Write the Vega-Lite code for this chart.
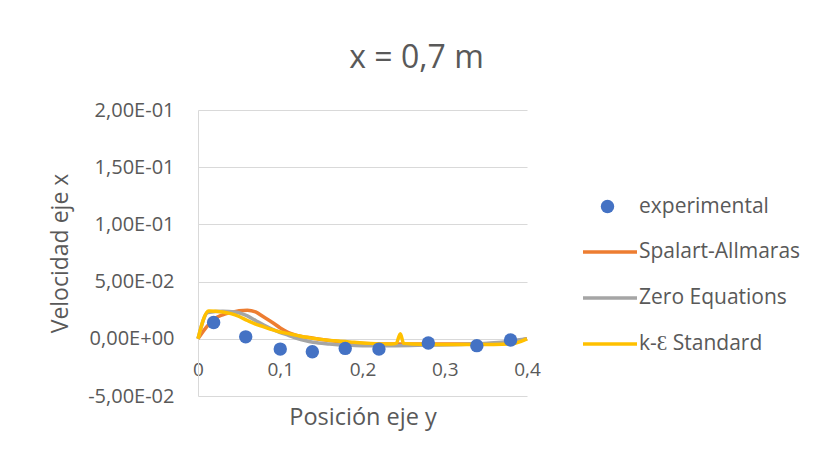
{
  "$schema": "https://vega.github.io/schema/vega-lite/v6.json",
  "autosize": {"type": "none"},
  "width": 329,
  "height": 286,
  "padding": {"left": 198, "top": 110, "right": 288, "bottom": 60},
  "background": "white",
  "title": {"text": "x = 0,7 m", "fontSize": 32, "font": "Open Sans", "fontWeight": "normal", "color": "#595959", "anchor": "middle", "dx": 54, "offset": 25},
  "config": {
    "view": {"stroke": null},
    "axis": {"labelFont": "Open Sans", "titleFont": "Open Sans", "labelColor": "#595959", "titleColor": "#595959", "titleFontWeight": "normal", "ticks": false, "gridColor": "#D9D9D9", "domainColor": "#D9D9D9"},
    "legend": {"labelFont": "Open Sans", "labelFontSize": 21, "labelColor": "#595959", "labelLimit": 400}
  },
  "datasets": {
    "lines": [
      {"series": "Spalart-Allmaras", "y_pos": 0, "vel": 0},
      {"series": "Spalart-Allmaras", "y_pos": 0.01, "vel": 0.01},
      {"series": "Spalart-Allmaras", "y_pos": 0.02, "vel": 0.0175},
      {"series": "Spalart-Allmaras", "y_pos": 0.03, "vel": 0.021},
      {"series": "Spalart-Allmaras", "y_pos": 0.04, "vel": 0.023},
      {"series": "Spalart-Allmaras", "y_pos": 0.05, "vel": 0.0245},
      {"series": "Spalart-Allmaras", "y_pos": 0.06, "vel": 0.025},
      {"series": "Spalart-Allmaras", "y_pos": 0.07, "vel": 0.0235},
      {"series": "Spalart-Allmaras", "y_pos": 0.08, "vel": 0.019},
      {"series": "Spalart-Allmaras", "y_pos": 0.09, "vel": 0.0145},
      {"series": "Spalart-Allmaras", "y_pos": 0.10, "vel": 0.0095},
      {"series": "Spalart-Allmaras", "y_pos": 0.11, "vel": 0.0055},
      {"series": "Spalart-Allmaras", "y_pos": 0.12, "vel": 0.003},
      {"series": "Spalart-Allmaras", "y_pos": 0.14, "vel": 0.0005},
      {"series": "Spalart-Allmaras", "y_pos": 0.16, "vel": -0.0015},
      {"series": "Spalart-Allmaras", "y_pos": 0.18, "vel": -0.003},
      {"series": "Spalart-Allmaras", "y_pos": 0.20, "vel": -0.004},
      {"series": "Spalart-Allmaras", "y_pos": 0.24, "vel": -0.0045},
      {"series": "Spalart-Allmaras", "y_pos": 0.28, "vel": -0.0045},
      {"series": "Spalart-Allmaras", "y_pos": 0.32, "vel": -0.0045},
      {"series": "Spalart-Allmaras", "y_pos": 0.36, "vel": -0.004},
      {"series": "Spalart-Allmaras", "y_pos": 0.38, "vel": -0.003},
      {"series": "Spalart-Allmaras", "y_pos": 0.40, "vel": 0},
      {"series": "Zero Equations", "y_pos": 0, "vel": 0},
      {"series": "Zero Equations", "y_pos": 0.012, "vel": 0.023},
      {"series": "Zero Equations", "y_pos": 0.03, "vel": 0.024},
      {"series": "Zero Equations", "y_pos": 0.045, "vel": 0.0235},
      {"series": "Zero Equations", "y_pos": 0.06, "vel": 0.02},
      {"series": "Zero Equations", "y_pos": 0.07, "vel": 0.016},
      {"series": "Zero Equations", "y_pos": 0.08, "vel": 0.012},
      {"series": "Zero Equations", "y_pos": 0.09, "vel": 0.0085},
      {"series": "Zero Equations", "y_pos": 0.10, "vel": 0.0055},
      {"series": "Zero Equations", "y_pos": 0.11, "vel": 0.003},
      {"series": "Zero Equations", "y_pos": 0.12, "vel": 0.0005},
      {"series": "Zero Equations", "y_pos": 0.13, "vel": -0.0015},
      {"series": "Zero Equations", "y_pos": 0.14, "vel": -0.003},
      {"series": "Zero Equations", "y_pos": 0.16, "vel": -0.0045},
      {"series": "Zero Equations", "y_pos": 0.18, "vel": -0.0055},
      {"series": "Zero Equations", "y_pos": 0.20, "vel": -0.006},
      {"series": "Zero Equations", "y_pos": 0.24, "vel": -0.006},
      {"series": "Zero Equations", "y_pos": 0.28, "vel": -0.0055},
      {"series": "Zero Equations", "y_pos": 0.32, "vel": -0.005},
      {"series": "Zero Equations", "y_pos": 0.36, "vel": -0.0035},
      {"series": "Zero Equations", "y_pos": 0.38, "vel": -0.002},
      {"series": "Zero Equations", "y_pos": 0.40, "vel": 0},
      {"series": "k-Ɛ Standard", "y_pos": 0, "vel": 0},
      {"series": "k-Ɛ Standard", "y_pos": 0.013, "vel": 0.0243},
      {"series": "k-Ɛ Standard", "y_pos": 0.03, "vel": 0.0235},
      {"series": "k-Ɛ Standard", "y_pos": 0.04, "vel": 0.022},
      {"series": "k-Ɛ Standard", "y_pos": 0.05, "vel": 0.0195},
      {"series": "k-Ɛ Standard", "y_pos": 0.06, "vel": 0.016},
      {"series": "k-Ɛ Standard", "y_pos": 0.07, "vel": 0.0128},
      {"series": "k-Ɛ Standard", "y_pos": 0.08, "vel": 0.0105},
      {"series": "k-Ɛ Standard", "y_pos": 0.09, "vel": 0.008},
      {"series": "k-Ɛ Standard", "y_pos": 0.10, "vel": 0.006},
      {"series": "k-Ɛ Standard", "y_pos": 0.11, "vel": 0.0045},
      {"series": "k-Ɛ Standard", "y_pos": 0.12, "vel": 0.003},
      {"series": "k-Ɛ Standard", "y_pos": 0.13, "vel": 0.0015},
      {"series": "k-Ɛ Standard", "y_pos": 0.14, "vel": 0.0005},
      {"series": "k-Ɛ Standard", "y_pos": 0.15, "vel": -0.0005},
      {"series": "k-Ɛ Standard", "y_pos": 0.17, "vel": -0.002},
      {"series": "k-Ɛ Standard", "y_pos": 0.19, "vel": -0.003},
      {"series": "k-Ɛ Standard", "y_pos": 0.21, "vel": -0.004},
      {"series": "k-Ɛ Standard", "y_pos": 0.235, "vel": -0.0045},
      {"series": "k-Ɛ Standard", "y_pos": 0.241, "vel": -0.004},
      {"series": "k-Ɛ Standard", "y_pos": 0.246, "vel": 0.0045},
      {"series": "k-Ɛ Standard", "y_pos": 0.25, "vel": -0.004},
      {"series": "k-Ɛ Standard", "y_pos": 0.26, "vel": -0.0045},
      {"series": "k-Ɛ Standard", "y_pos": 0.30, "vel": -0.005},
      {"series": "k-Ɛ Standard", "y_pos": 0.34, "vel": -0.005},
      {"series": "k-Ɛ Standard", "y_pos": 0.38, "vel": -0.0045},
      {"series": "k-Ɛ Standard", "y_pos": 0.40, "vel": 0}
    ],
    "points": [
      {"series": "experimental", "y_pos": 0.019, "vel": 0.0142},
      {"series": "experimental", "y_pos": 0.058, "vel": 0.0017},
      {"series": "experimental", "y_pos": 0.10, "vel": -0.009},
      {"series": "experimental", "y_pos": 0.139, "vel": -0.0113},
      {"series": "experimental", "y_pos": 0.179, "vel": -0.0084},
      {"series": "experimental", "y_pos": 0.22, "vel": -0.009},
      {"series": "experimental", "y_pos": 0.28, "vel": -0.0037},
      {"series": "experimental", "y_pos": 0.339, "vel": -0.006},
      {"series": "experimental", "y_pos": 0.38, "vel": -0.001}
    ]
  },
  "encoding": {
    "x": {
      "field": "y_pos", "type": "quantitative",
      "scale": {"domain": [0, 0.4], "nice": false, "zero": false},
      "axis": {"title": "Posición eje y", "titleFontSize": 23.5, "labelFontSize": 19, "values": [0, 0.1, 0.2, 0.3, 0.4], "labelExpr": "replace('' + datum.value, '.', ',')", "grid": false, "domain": false, "offset": -36, "labelPadding": 0, "titlePadding": 26, "labelFlush": false}
    },
    "y": {
      "field": "vel", "type": "quantitative",
      "scale": {"domain": [-0.05, 0.2], "nice": false, "zero": false},
      "axis": {"title": "Velocidad eje x", "titleFontSize": 23, "labelFontSize": 20, "values": [-0.05, 0, 0.05, 0.1, 0.15, 0.2], "labelExpr": "replace(replace(replace(replace(format(datum.value, '.2e'), '.', ','), 'e-', 'E-0'), 'e+', 'E+0'), '−', '-')", "labelPadding": 24, "titleX": -138, "titleY": 143, "titleAlign": "center", "titleBaseline": "middle", "titleAngle": -90}
    }
  },
  "layer": [
    {
      "data": {"name": "lines"},
      "mark": {"type": "line", "strokeWidth": 3.5, "interpolate": "monotone"},
      "encoding": {
        "stroke": {
          "field": "series", "type": "nominal",
          "scale": {"domain": ["Spalart-Allmaras", "Zero Equations", "k-Ɛ Standard"], "range": ["#ED7D31", "#A5A5A5", "#FFC000"]},
          "legend": {"title": null, "orient": "none", "legendX": 383, "legendY": 113, "symbolType": "stroke", "symbolSize": 2916, "symbolStrokeWidth": 3.5, "labelOffset": 0, "rowPadding": 7}
        }
      }
    },
    {
      "data": {"name": "points"},
      "mark": {"type": "circle", "size": 180, "opacity": 1},
      "encoding": {
        "fill": {
          "field": "series", "type": "nominal",
          "scale": {"domain": ["experimental"], "range": ["#4472C4"]},
          "legend": {"title": null, "orient": "none", "legendX": 399, "legendY": 86, "symbolType": "circle", "symbolSize": 180, "symbolOpacity": 1, "labelOffset": 21}
        }
      }
    }
  ],
  "resolve": {"scale": {"fill": "independent", "stroke": "independent"}}
}
